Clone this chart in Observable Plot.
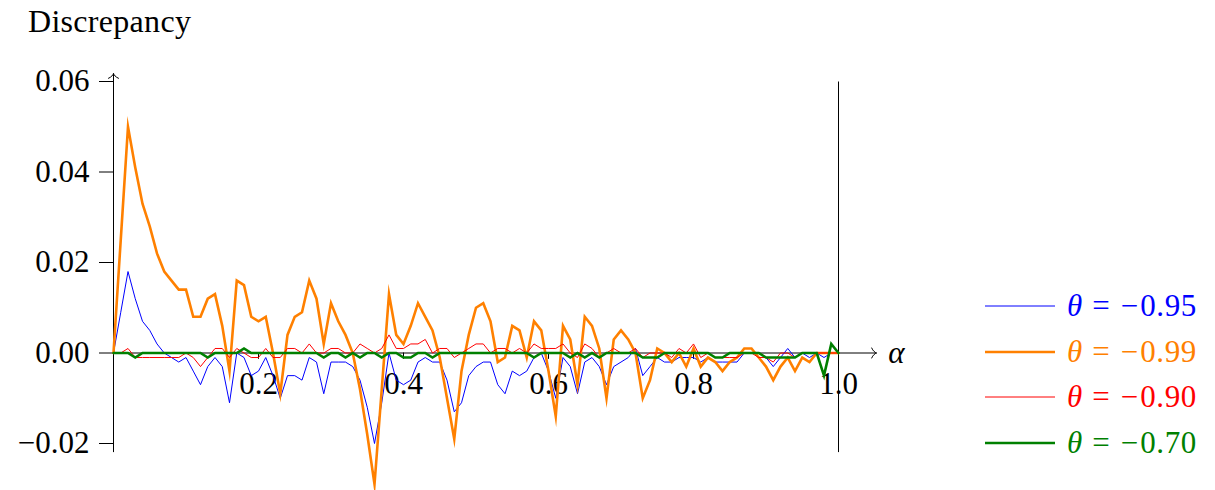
<!DOCTYPE html>
<html>
<head>
<meta charset="utf-8">
<script src="https://cdn.jsdelivr.net/npm/d3@7"></script>
<script src="https://cdn.jsdelivr.net/npm/@observablehq/plot@0.6"></script>
<style>
  html, body { margin: 0; padding: 0; background: #fff; }
  #wrap { position: relative; width: 1215px; height: 490px; overflow: hidden; font-family: "Liberation Serif", "Times New Roman", serif; }
  #title { position: absolute; left: 28px; top: 3px; font-size: 32px; letter-spacing: 0.3px; color: #000; }
  #legend { position: absolute; left: 985px; top: 0; }
  .row { position: absolute; left: 0; height: 40px; display: flex; align-items: center; white-space: nowrap; font-size: 31px; }
  .sw { display: inline-block; width: 70px; height: 10px; margin-right: 12px; }
  .eq { margin: 0 11px 0 10px; }
  .mn { margin-right: 2px; }
  .num { letter-spacing: 0.6px; }
</style>
</head>
<body>
<div id="wrap">
  <div id="title">Discrepancy</div>
  <div id="legend"></div>
</div>
<script>
// ---- data ----
const alpha = d3.range(0, 101).map(i => i / 100);

const seriesLabels = ["0.95", "0.99", "0.90", "0.70"];
const seriesColors = ["#0000ff", "#ff8000", "#ff0000", "#008000"];
const seriesWidths = [1, 2.6, 1, 2.6];

const theta095 = [
  0, 0.009, 0.018, 0.012, 0.007, 0.005, 0.002, 0.000, -0.001, -0.002,
  -0.001, -0.004, -0.007, -0.003, -0.001, -0.003, -0.011, 0.000, -0.001, -0.005,
  -0.004, -0.001, -0.005, -0.010, -0.005, -0.005, -0.006, -0.001, -0.002, -0.009,
  -0.002, -0.002, -0.002, -0.003, -0.006, -0.012, -0.020, -0.011, 0.000, -0.006,
  -0.007, -0.006, -0.002, -0.001, -0.002, -0.002, -0.006, -0.013, -0.011, -0.005,
  -0.003, -0.002, -0.002, -0.007, -0.009, -0.004, -0.005, -0.004, -0.001, 0.000,
  -0.004, -0.010, -0.001, -0.003, -0.009, -0.002, -0.001, -0.003, -0.007, -0.003,
  -0.002, -0.001, 0.001, -0.005, -0.003, -0.001, -0.002, -0.002, -0.001, -0.001,
  -0.001, -0.002, -0.001, -0.002, -0.002, -0.002, -0.002, 0.000, 0.000, 0.000,
  -0.001, -0.003, -0.001, 0.001, -0.001, 0.000, -0.001, 0.000, -0.001, 0.000,
  0.000
];

const theta099 = [
  0, 0.025, 0.050, 0.041, 0.033, 0.028, 0.022, 0.018, 0.016, 0.014,
  0.014, 0.008, 0.008, 0.012, 0.013, 0.006, -0.004, 0.016, 0.015, 0.008,
  0.007, 0.008, 0.000, -0.009, 0.004, 0.008, 0.009, 0.016, 0.012, 0.002,
  0.011, 0.007, 0.004, 0.000, -0.008, -0.018, -0.029, -0.008, 0.013, 0.004,
  0.002, 0.006, 0.011, 0.008, 0.005, -0.001, -0.010, -0.019, -0.004, 0.004,
  0.010, 0.011, 0.007, -0.002, -0.001, 0.006, 0.005, -0.001, 0.007, 0.005,
  -0.004, -0.014, 0.006, 0.003, -0.007, 0.008, 0.006, 0.001, -0.010, 0.003,
  0.005, 0.003, 0.000, -0.010, -0.006, 0.001, 0.000, -0.002, 0.000, -0.003,
  0.001, -0.003, -0.001, -0.002, -0.004, -0.002, -0.001, 0.001, 0.001, -0.001,
  -0.003, -0.006, -0.003, -0.001, -0.004, -0.001, -0.002, 0.000, 0.000, 0.000,
  0.000
];

const theta090 = [
  0, 0.000, 0.001, -0.001, -0.001, -0.001, -0.001, -0.001, -0.001, -0.001,
  0.000, -0.001, -0.003, -0.001, 0.001, 0.001, -0.001, 0.001, 0.000, -0.001,
  -0.001, 0.001, -0.001, -0.001, 0.001, 0.001, 0.000, 0.002, 0.000, 0.000,
  0.001, 0.001, 0.000, 0.000, 0.002, 0.001, 0.000, 0.001, 0.004, 0.001,
  0.001, 0.002, 0.002, 0.003, 0.000, 0.001, 0.001, -0.001, 0.000, 0.001,
  0.002, 0.002, 0.000, 0.001, 0.001, 0.000, 0.001, 0.000, 0.002, 0.001,
  0.001, 0.001, 0.002, 0.000, -0.001, 0.002, 0.001, -0.001, 0.000, 0.001,
  0.000, 0.000, 0.001, -0.001, 0.000, 0.000, 0.000, -0.001, 0.001, 0.000,
  0.002, -0.001, 0.000, -0.001, -0.001, -0.001, -0.001, 0.000, 0.000, -0.001,
  -0.001, -0.002, 0.000, 0.000, -0.001, 0.000, 0.000, 0.000, 0.000, 0.000,
  0.000
];

const theta070 = [
  0, 0.000, 0.000, -0.001, 0.000, 0.000, 0.000, 0.000, 0.000, 0.000,
  0.000, 0.000, 0.000, -0.001, 0.000, 0.000, 0.000, 0.000, 0.001, 0.000,
  0.000, 0.000, 0.000, 0.000, 0.000, 0.000, 0.000, 0.000, 0.000, -0.001,
  0.000, 0.000, -0.001, 0.000, -0.001, 0.000, 0.000, -0.001, 0.000, 0.000,
  -0.001, -0.001, 0.000, 0.000, -0.001, 0.000, 0.000, 0.000, 0.000, 0.000,
  0.000, 0.000, 0.000, 0.000, 0.000, 0.000, 0.000, 0.000, -0.001, 0.000,
  0.000, 0.000, 0.000, -0.001, 0.000, -0.001, 0.000, -0.001, 0.000, 0.000,
  0.000, 0.000, 0.000, -0.001, -0.001, -0.001, 0.000, 0.000, 0.000, 0.000,
  0.000, 0.000, 0.000, -0.001, -0.001, 0.000, 0.000, 0.000, 0.000, 0.000,
  -0.001, -0.001, -0.001, -0.001, -0.001, 0.000, 0.000, 0.000, -0.005, 0.002,
  0.000
];

const xTicks = [0.2, 0.4, 0.6, 0.8, 1.0];
const yTicks = [-0.02, 0, 0.02, 0.04, 0.06];
const xDomain = [0, 1];
const yDomain = [-0.02, 0.06];
const xAxisEnd = 1.052;     // arrow tip of the alpha axis
const yAxisBottom = -0.0219; // bottom end of the vertical axes
const yAxisTop = 0.0617;     // arrow tip of the y axis
const xTickLen = -0.0014;    // short downward x tick marks

// ---- build ----
const allSeries = [theta095, theta099, theta090, theta070];
const lineMarks = allSeries.map((vals, k) =>
  Plot.line(alpha.map((a, i) => ({a, v: vals[i]})), {
    x: "a", y: "v", stroke: seriesColors[k], strokeWidth: seriesWidths[k],
    strokeLinejoin: "miter", strokeMiterlimit: 10
  })
);

const fmtY = d3.format(".2f");
const fmtX = d3.format(".1f");

const chart = Plot.plot({
  width: 1215,
  height: 490,
  marginLeft: 113,
  marginRight: 377,
  marginTop: 81,
  marginBottom: 47,
  x: {type: "linear", domain: xDomain, axis: null},
  y: {type: "linear", domain: yDomain, axis: null},
  style: {fontFamily: "'Liberation Serif', 'Times New Roman', serif", fontSize: "31px", background: "transparent", overflow: "visible", color: "#000"},
  marks: [
    // y axis tick marks and labels
    Plot.axisY(yTicks, {anchor: "left", tickSize: 14, tickPadding: 10, tickFormat: fmtY, fontSize: 31, strokeWidth: 1, label: null}),
    // y axis line with arrow
    Plot.link([0], {x1: xDomain[0], x2: xDomain[0], y1: yAxisBottom, y2: yAxisTop, stroke: "#000", strokeWidth: 1, markerEnd: "arrow"}),
    // right vertical line
    Plot.link([0], {x1: xDomain[1], x2: xDomain[1], y1: yAxisBottom, y2: yDomain[1], stroke: "#000", strokeWidth: 1}),
    // x axis line with arrow
    Plot.link([0], {x1: xDomain[0], x2: xAxisEnd, y1: 0, y2: 0, stroke: "#000", strokeWidth: 1, markerEnd: "arrow"}),
    // x ticks (small, downward) and labels
    Plot.ruleX(xTicks, {x: d => d, y1: 0, y2: xTickLen, stroke: "#000", strokeWidth: 1}),
    Plot.text(xTicks, {x: d => d, y: 0, text: d => fmtX(d), lineAnchor: "top", dy: 19, fontSize: 31, fill: "#000"}),
    Plot.text(["α"], {x: xAxisEnd, y: 0, text: d => d, textAnchor: "start", dx: 12, fontSize: 31, fontStyle: "italic", fill: "#000"}),
    ...lineMarks
  ]
});
// larger, LaTeX-like arrow heads
chart.querySelectorAll("marker").forEach(m => {
  m.setAttribute("markerWidth", "12");
  m.setAttribute("markerHeight", "12");
  m.setAttribute("viewBox", "-6 -6 12 12");
  m.setAttribute("markerUnits", "userSpaceOnUse");
  const p = m.querySelector("path");
  if (p) {
    p.setAttribute("d", "M-4.5,-5C-3.2,-2 -1.2,-0.4 0.5,0C-1.2,0.4 -3.2,2 -4.5,5");
    p.setAttribute("stroke-width", "1");
    p.setAttribute("fill", "none");
    p.setAttribute("stroke", "#000");
  }
});
document.getElementById("wrap").prepend(chart);
chart.style.position = "absolute";
chart.style.left = "0px";
chart.style.top = "0px";

// legend
const legend = document.getElementById("legend");
const rowCenters = [306, 352, 397, 443];
seriesLabels.forEach((lab, k) => {
  const row = document.createElement("div");
  row.className = "row";
  row.style.top = (rowCenters[k] - 20) + "px";
  row.style.color = seriesColors[k];
  row.innerHTML =
    `<svg class="sw" width="70" height="10" viewBox="0 0 70 10"><line x1="0" x2="70" y1="5" y2="5" stroke="${seriesColors[k]}" stroke-width="${seriesWidths[k]}"/></svg>` +
    `<i>θ</i><span class="eq">=</span><span class="mn">−</span><span class="num">${lab}</span>`;
  legend.appendChild(row);
});
document.getElementById("title").style.zIndex = 2;
legend.style.zIndex = 2;
</script>
</body>
</html>
